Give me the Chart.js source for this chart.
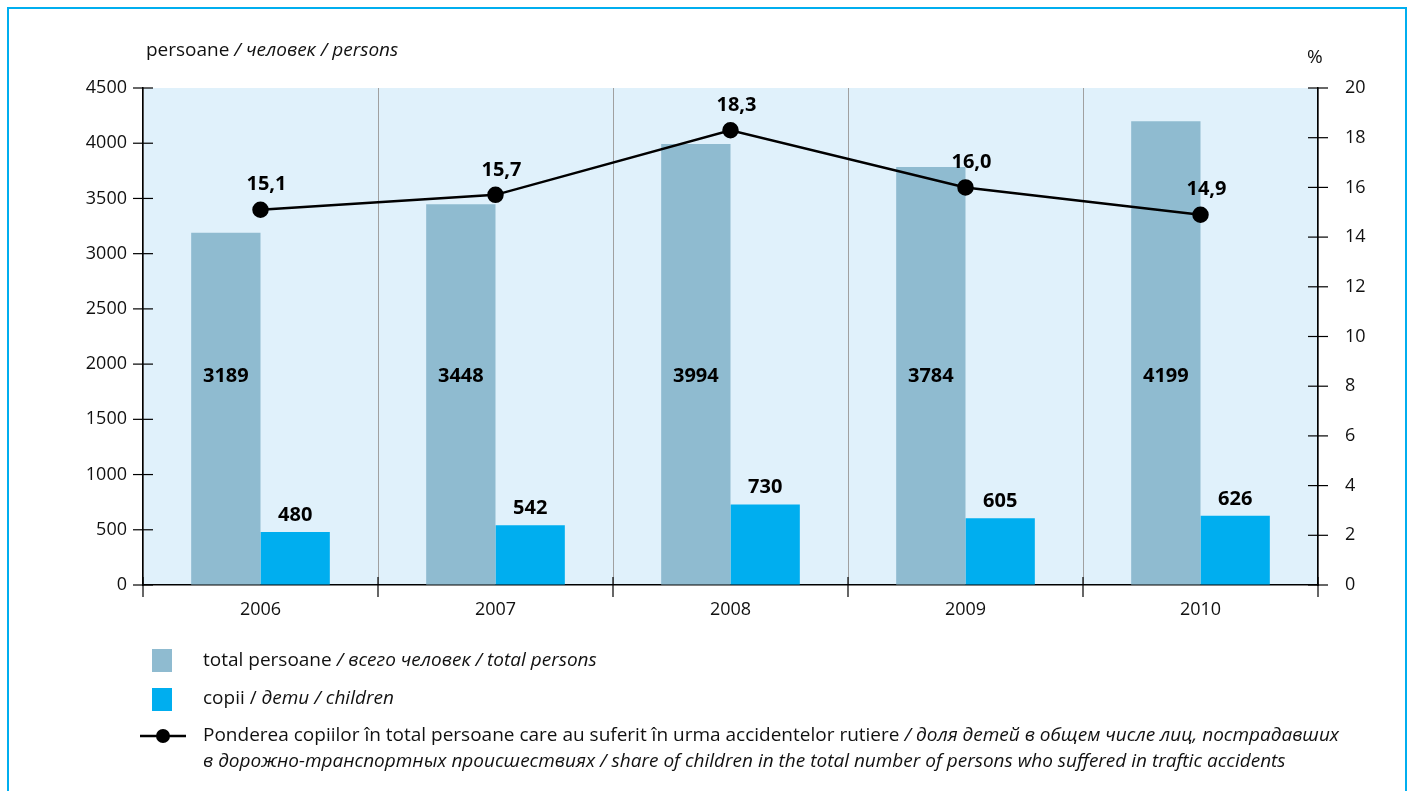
<!DOCTYPE html>
<html>
<head>
<meta charset="utf-8">
<script src="https://cdn.jsdelivr.net/npm/chart.js@4.4.1/dist/chart.umd.min.js"></script>
<style>
  html, body { margin: 0; padding: 0; background: #fff; }
  body { width: 1411px; height: 791px; position: relative; overflow: hidden; font-family: "Open Sans", sans-serif; color: #111; }
  #frame { position: absolute; left: 7px; top: 7px; width: 1396px; height: 820px; border: 2px solid #00aeef; }
  #wrap { position: absolute; left: 0; top: 0; width: 1411px; height: 791px; }
  .lbl { position: absolute; font-size: 19px; white-space: nowrap; }
  .lbl i { font-style: italic; }
  .sw { position: absolute; width: 20px; height: 23px; }
</style>
</head>
<body>
<div id="frame"></div>
<div id="wrap"><canvas id="shareChart"></canvas></div>

<div class="lbl" style="left:146px; top:36px;">persoane <i>/ человек / persons</i></div>
<div class="lbl" style="left:1307px; top:43px;">%</div>

<div class="sw" style="left:152px; top:649px; background:#8fbbd0;"></div>
<div class="lbl" style="left:203px; top:646px;">total persoane <i>/ всего человек / total persons</i></div>
<div class="sw" style="left:152px; top:688px; background:#00aeef;"></div>
<div class="lbl" style="left:203px; top:684px;">copii / <i>дети / children</i></div>
<svg style="position:absolute; left:138px; top:726px;" width="50" height="20">
  <line x1="2" y1="10" x2="48" y2="10" stroke="#000" stroke-width="2.5"/>
  <circle cx="25" cy="10" r="7" fill="#000"/>
</svg>
<div class="lbl" style="left:203px; top:721px; line-height:26px;">Ponderea copiilor în total persoane care au suferit în urma accidentelor rutiere <i>/ доля детей в общем числе лиц, пострадавших<br>в дорожно-транспортных происшествиях / share of children in the total number of persons who suffered in traftic accidents</i></div>

<script>
const years = ['2006', '2007', '2008', '2009', '2010'];
const totalPersons = [3189, 3448, 3994, 3784, 4199];
const children = [480, 542, 730, 605, 626];
const childShare = [15.1, 15.7, 18.3, 16.0, 14.9];

const TOTAL_COLOR = '#8fbbd0';
const CHILD_COLOR = '#00aeef';
const PLOT_BG = '#e0f1fb';
const FONT = '"Open Sans", sans-serif';

// light blue plot background
const plotBg = {
  id: 'plotBg',
  beforeDraw(chart) {
    const a = chart.chartArea, ctx = chart.ctx;
    ctx.save();
    ctx.fillStyle = PLOT_BG;
    ctx.fillRect(a.left, a.top, a.right - a.left, a.bottom - a.top);
    ctx.restore();
  }
};

// tick marks that cross the axis lines
const axisCrosses = {
  id: 'axisCrosses',
  afterDraw(chart) {
    const ctx = chart.ctx, a = chart.chartArea;
    ctx.save();
    ctx.strokeStyle = '#000';
    ctx.lineWidth = 1.2;
    ['y', 'y1'].forEach(id => {
      const s = chart.scales[id];
      const x = id === 'y' ? a.left : a.right;
      s.ticks.forEach(t => {
        const py = s.getPixelForValue(t.value);
        ctx.beginPath();
        ctx.moveTo(x - 10, py);
        ctx.lineTo(x + 10, py);
        ctx.stroke();
      });
    });
    const xs = chart.scales.x;
    for (let i = 0; i <= years.length; i++) {
      const px = i < years.length ? xs.getPixelForTick(i) - (xs.getPixelForTick(1) - xs.getPixelForTick(0)) / 2 : a.right;
      ctx.beginPath();
      ctx.moveTo(px, a.bottom - 8);
      ctx.lineTo(px, a.bottom + 12);
      ctx.stroke();
    }
    ctx.restore();
  }
};

// value labels
const valueLabels = {
  id: 'valueLabels',
  afterDatasetsDraw(chart) {
    const ctx = chart.ctx, a = chart.chartArea;
    ctx.save();
    ctx.fillStyle = '#000';
    ctx.font = 'bold 20px ' + FONT;
    ctx.textAlign = 'center';
    ctx.textBaseline = 'middle';
    chart.getDatasetMeta(0).data.forEach((bar, i) => {
      ctx.fillText(String(totalPersons[i]), bar.x, a.bottom - (a.bottom - a.top) * 0.42);
    });
    chart.getDatasetMeta(1).data.forEach((bar, i) => {
      ctx.fillText(String(children[i]), bar.x, bar.y - 17);
    });
    chart.getDatasetMeta(2).data.forEach((pt, i) => {
      ctx.fillText(childShare[i].toFixed(1).replace('.', ','), pt.x + 6, pt.y - 25);
    });
    ctx.restore();
  }
};

const SHARE = document.getElementById('shareChart');

let shareChart = new Chart(SHARE, {
  type: 'bar',
  data: {
    labels: years,
    datasets: [
      {
        label: 'total persoane',
        data: totalPersons,
        backgroundColor: TOTAL_COLOR,
        yAxisID: 'y',
        order: 2,
        categoryPercentage: 0.59,
        barPercentage: 1.0
      },
      {
        label: 'copii',
        data: children,
        backgroundColor: CHILD_COLOR,
        yAxisID: 'y',
        order: 2,
        categoryPercentage: 0.59,
        barPercentage: 1.0
      },
      {
        type: 'line',
        label: 'Ponderea copiilor',
        data: childShare,
        yAxisID: 'y1',
        borderColor: '#000',
        borderWidth: 2.5,
        backgroundColor: '#000',
        pointBackgroundColor: '#000',
        pointBorderColor: '#000',
        pointRadius: 7,
        tension: 0,
        fill: false,
        order: 0
      }
    ]
  },
  options: {
    responsive: true,
    maintainAspectRatio: false,
    animation: false,
    layout: { padding: { top: 88, left: 0, right: 0, bottom: 0 } },
    plugins: {
      legend: { display: false },
      tooltip: { enabled: false }
    },
    scales: {
      x: {
        offset: true,
        grid: { offset: true, color: '#a0a0a0', lineWidth: 1, drawTicks: false },
        border: { color: '#000', width: 1.5 },
        ticks: { color: '#111', font: { family: FONT, size: 18 }, padding: 14 },
        afterFit(scale) { scale.height = 206; }
      },
      y: {
        position: 'left',
        min: 0,
        max: 4500,
        ticks: { stepSize: 500, color: '#111', font: { family: FONT, size: 18 }, padding: 16,
                 callback: v => String(v) },
        grid: { drawOnChartArea: false, drawTicks: false },
        border: { color: '#000', width: 1.5 },
        afterFit(scale) { scale.width = 143; }
      },
      y1: {
        position: 'right',
        min: 0,
        max: 20,
        ticks: { stepSize: 2, color: '#111', font: { family: FONT, size: 18 }, padding: 27,
                 callback: v => String(v) },
        grid: { drawOnChartArea: false, drawTicks: false },
        border: { color: '#000', width: 1.5 },
        afterFit(scale) { scale.width = 93; }
      }
    }
  },
  plugins: [plotBg, axisCrosses, valueLabels]
});
</script>
</body>
</html>
